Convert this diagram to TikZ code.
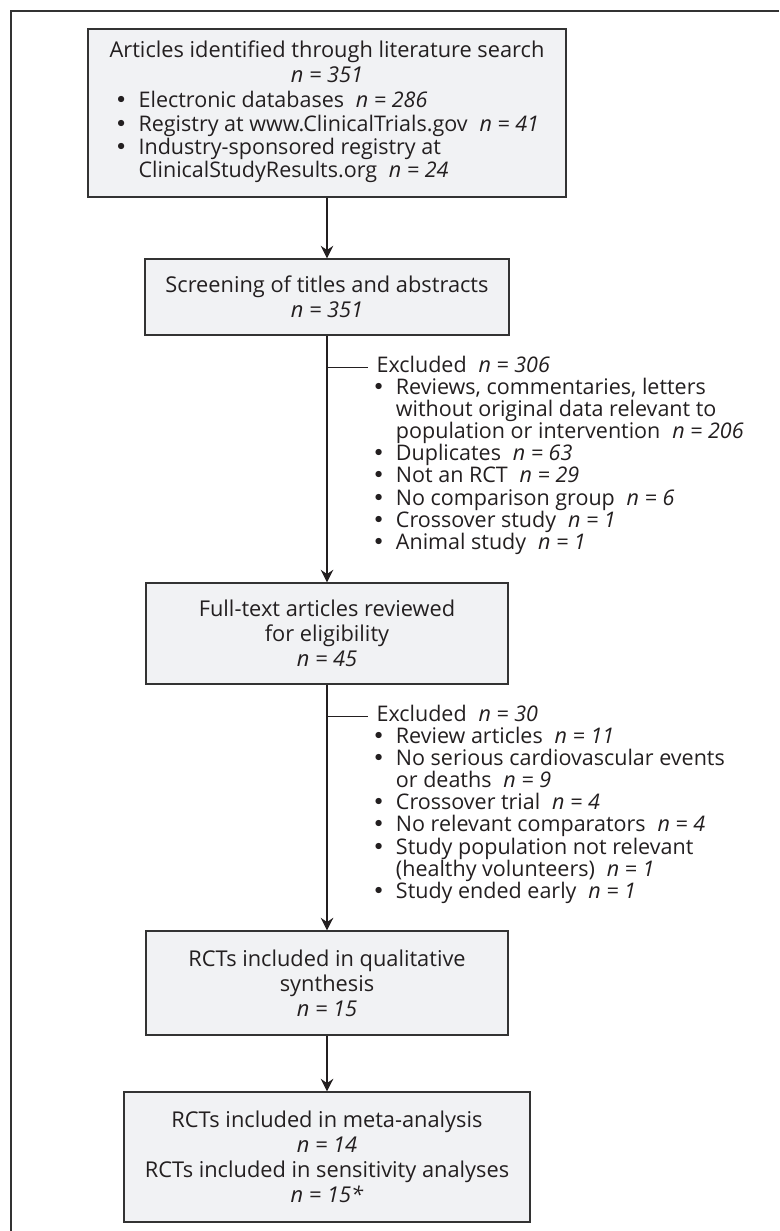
\documentclass[tikz,border=0pt]{standalone}
\usepackage{fontspec}
\setmainfont{Open Sans}
\newfontfamily\bulfont{DejaVu Sans}
\usetikzlibrary{arrows.meta,positioning}
\definecolor{boxfill}{HTML}{F1F2F4}
\definecolor{boxline}{HTML}{333333}
\definecolor{ink}{HTML}{231F20}
\newcommand{\ncount}[1]{\hspace{0.55em}\textit{n = #1}}
\newcommand{\bul}{\makebox[1.1em][l]{\bulfont\textbullet}}
\newcommand{\cont}{\makebox[1.1em]{}}
\tikzset{
  stage/.style={draw=boxline,fill=boxfill,line width=0.8pt,align=center,inner sep=0pt,text=ink,font=\fontsize{15.5}{17.8}\selectfont},
  notes/.style={anchor=north west,inner sep=0pt,align=left,text=ink,font=\fontsize{15.3}{15.7}\selectfont},
  flow/.style={draw=ink,line width=0.8pt,-{Stealth[length=9pt,width=9pt,inset=3pt]}},
  link/.style={draw=ink,line width=0.8pt}
}
\begin{document}
\begin{tikzpicture}
\useasboundingbox (0,0) rectangle (19.475,-30.775);
\draw[boxline,line width=0.8pt] (19.475,-0.275) -- (0.275,-0.275) -- (0.275,-30.775);

\node[stage,minimum width=11.95cm,minimum height=4.2cm] (search) at (8.175,-2.825)
  {Articles identified through literature search\\
   \textit{n = 351}\\
   \fontsize{15.3}{16.5}\selectfont
   \begin{tabular}[t]{@{}l@{}}
   \bul Electronic databases\ncount{286}\\
   \bul Registry at www.ClinicalTrials.gov\ncount{41}\\
   \bul Industry-sponsored registry at\\
   \cont ClinicalStudyResults.org\ncount{24}
   \end{tabular}};
\node[stage,minimum width=9.1cm,minimum height=1.9cm] (screen) at (8.175,-7.425)
  {Screening of titles and abstracts\\ \textit{n = 351}};
\node[stage,minimum width=9.05cm,minimum height=2.525cm] (fulltext) at (8.175,-15.8375)
  {Full-text articles reviewed\\ for eligibility\\ \textit{n = 45}};
\node[stage,minimum width=9.05cm,minimum height=2.6cm] (qualsyn) at (8.175,-24.575)
  {RCTs included in qualitative\\ synthesis\\ \textit{n = 15}};
\node[stage,minimum width=10.15cm,minimum height=3.25cm] (metaan) at (8.175,-28.925)
  {RCTs included in meta-analysis\\ \textit{n = 14}\\
   RCTs included in sensitivity analyses\\ \textit{n = 15*}};

\node[notes] (excl1) at (9.3,-8.9)
  {\hspace*{0.2em}Excluded\ncount{306}\\
   \bul Reviews, commentaries, letters\\
   \cont without original data relevant to\\
   \cont population or intervention\ncount{206}\\
   \bul Duplicates\ncount{63}\\
   \bul Not an RCT\ncount{29}\\
   \bul No comparison group\ncount{6}\\
   \bul Crossover study\ncount{1}\\
   \bul Animal study\ncount{1}};
\node[notes] (excl2) at (9.3,-17.625)
  {\hspace*{0.2em}Excluded\ncount{30}\\
   \bul Review articles\ncount{11}\\
   \bul No serious cardiovascular events\\
   \cont or deaths\ncount{9}\\
   \bul Crossover trial\ncount{4}\\
   \bul No relevant comparators\ncount{4}\\
   \bul Study population not relevant\\
   \cont (healthy volunteers)\ncount{1}\\
   \bul Study ended early\ncount{1}};
\coordinate (tick1) at ([xshift=-0.1cm,yshift=-0.28cm]excl1.north west);
\coordinate (tick2) at ([xshift=-0.1cm,yshift=-0.28cm]excl2.north west);

\draw[flow] (search) -- (screen);
\draw[flow] (screen) -- (fulltext);
\draw[flow] (fulltext) -- (qualsyn);
\draw[flow] (qualsyn) -- (metaan);
\draw[link] (screen.south |- tick1) -- (tick1);
\draw[link] (fulltext.south |- tick2) -- (tick2);
\end{tikzpicture}
\end{document}
